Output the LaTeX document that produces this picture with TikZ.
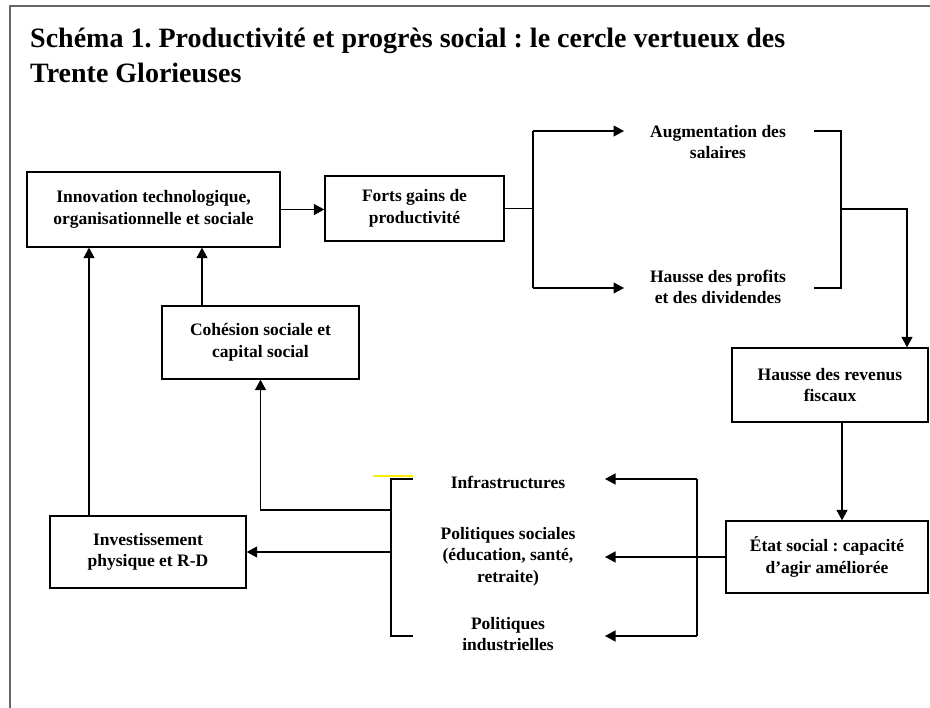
\documentclass[tikz,border=0pt]{standalone}
\usepackage{fontspec}
\setmainfont{Liberation Serif}
\usetikzlibrary{arrows.meta}
\newcommand{\diagfont}{\fontsize{17.5}{21.5}\selectfont\bfseries}
\newcommand{\headfont}{\fontsize{28}{28}\selectfont\bfseries}
\definecolor{framegray}{HTML}{666666}
\definecolor{markyellow}{HTML}{FFEE00}
\frenchspacing
\begin{document}
\begin{tikzpicture}[x=1pt,y=-1pt,
  box/.style={draw, line width=1.3pt, align=center, inner sep=0pt, font=\diagfont},
  lbl/.style={align=center, inner sep=0pt, font=\diagfont},
  conn/.style={line width=1.2pt},
  arr/.style={conn, -{Triangle[length=10.5pt,width=11pt]}},
  framestyle/.style={line width=2pt, draw=framegray},
  headstyle/.style={anchor=base west, inner sep=0pt, font=\headfont}]
\useasboundingbox (0,0) rectangle (930,708);
% frame
\draw[framestyle] (9.5,708) -- (9.5,6) -- (930,6);
% title
\node[headstyle] (t1) at (30,48) {Schéma 1. Productivité et progrès social : le cercle vertueux des};
\node[headstyle] (t2) at (30,83) {Trente Glorieuses};
% boxes
\node[box, minimum width=253pt, minimum height=75pt] (innov) at (153.5,209.5) {Innovation technologique,\\organisationnelle et sociale};
\node[box, minimum width=179pt, minimum height=65pt] (forts) at (414.5,208.5) {Forts gains de\\productivité};
\node[box, minimum width=197pt, minimum height=73pt] (coh) at (260.5,342.5) {Cohésion sociale et\\capital social};
\node[box, minimum width=196pt, minimum height=74pt] (rev) at (830,385) {Hausse des revenus\\fiscaux};
\node[box, minimum width=202pt, minimum height=72pt] (etat) at (827,557) {État social : capacité\\d’agir améliorée};
\node[box, minimum width=196pt, minimum height=72pt] (inv) at (148,552) {Investissement\\physique et R-D};
% labels
\node[lbl] (augm) at (718,142) {Augmentation des\\salaires};
\node[lbl] (haus) at (718,287) {Hausse des profits\\et des dividendes};
\node[lbl] (infra) at (508,482) {Infrastructures};
\node[lbl] (polsoc) at (508,556.5) {Politiques sociales\\(éducation, santé,\\retraite)};
\node[lbl] (polind) at (508,634) {Politiques\\industrielles};
% connectors
\draw[arr] (innov.east) -- (innov.east -| forts.west);
\coordinate (s) at (533,208.5);
\coordinate (a1) at (624,131);
\coordinate (a2) at (624,288);
\draw[conn] (forts.east) -- (s);
\draw[conn] (s |- a1) -- (s |- a2);
\draw[arr] (s |- a1) -- (a1);
\draw[arr] (s |- a2) -- (a2);
\coordinate (b1) at (814,131);
\coordinate (b2) at (814,288);
\coordinate (m) at (841,209);
\draw[conn] (b1) -- (b1 -| m) -- (b2 -| m) -- (b2);
\coordinate (c) at (907,209);
\draw[arr] (m) -- (c) -- (c |- rev.north);
\coordinate (d) at (842,0);
\draw[arr] (rev.south -| d) -- (etat.north -| d);
\coordinate (e) at (605,557);
\draw[arr] (etat.west) -- (etat.west -| e);
\coordinate (f1) at (697,479);
\coordinate (f2) at (697,636);
\coordinate (g1) at (605,479);
\coordinate (g2) at (605,636);
\draw[conn] (f1) -- (f2);
\draw[arr] (f1) -- (g1);
\draw[arr] (f2) -- (g2);
\coordinate (h1) at (413,479);
\coordinate (h2) at (413,636);
\coordinate (k) at (391,0);
\draw[conn] (h1) -- (h1 -| k) -- (h2 -| k) -- (h2);
\draw[markyellow, line width=1.3pt] (373,476) -- (413,476);
\coordinate (p) at (391,510);
\draw[arr] (p) -- (p -| coh.south) -- (coh.south);
\coordinate (q) at (391,552);
\draw[arr] (q) -- (inv.east);
\coordinate (u) at (89,0);
\draw[arr] (inv.north -| u) -- (innov.south -| u);
\coordinate (v) at (202,0);
\draw[arr] (coh.north -| v) -- (innov.south -| v);
\end{tikzpicture}
\end{document}
